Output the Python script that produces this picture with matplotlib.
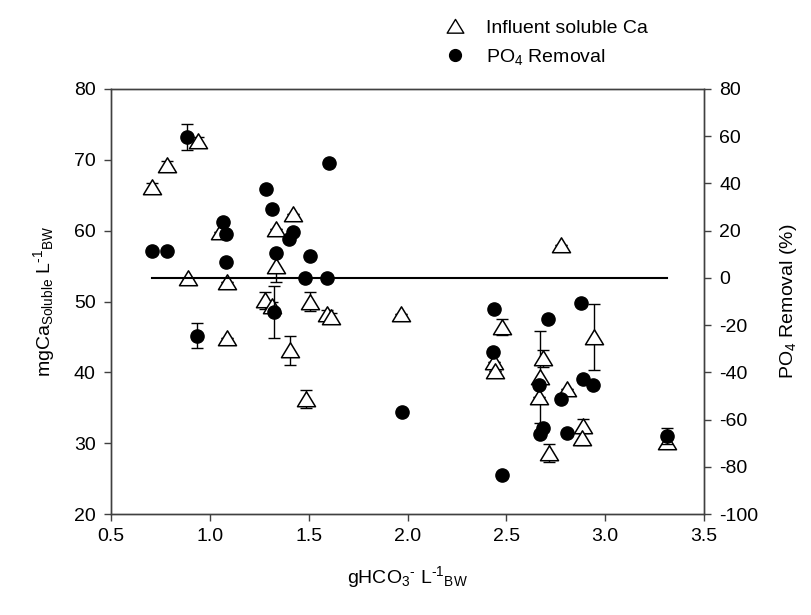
import matplotlib
matplotlib.use("Agg")
import matplotlib.pyplot as plt
from matplotlib.path import Path
from matplotlib.lines import Line2D

plt.rcParams['font.family'] = ['Liberation Sans', 'DejaVu Sans']
plt.rcParams['mathtext.fontset'] = 'custom'
plt.rcParams['mathtext.rm'] = 'Liberation Sans'
plt.rcParams['mathtext.it'] = 'Liberation Sans:italic'
plt.rcParams['mathtext.bf'] = 'Liberation Sans:bold'
plt.rcParams['mathtext.default'] = 'regular'
plt.rcParams['axes.unicode_minus'] = False

# Influent soluble Ca (left axis)
ca_x = [0.706, 0.785, 0.938, 0.888, 1.085, 1.051, 1.085, 1.279, 1.316, 1.333,
        1.333, 1.422, 1.405, 1.485, 1.507, 1.591, 1.611, 1.965, 2.776, 2.479,
        2.439, 2.442, 2.943, 2.687, 2.670, 2.667, 2.715, 2.808, 2.889, 2.881, 3.311]
ca_y = [66.1, 69.3, 72.6, 53.3, 52.8, 59.8, 44.8, 50.2, 49.4, 55.0,
        60.2, 62.4, 43.1, 36.2, 50.0, 48.2, 47.8, 48.2, 58.0, 46.4,
        41.5, 40.2, 45.0, 42.0, 39.4, 36.5, 28.6, 37.6, 32.4, 30.7, 30.2]
ca_err = [0.6, 0.5, 0.6, 0, 0, 0, 0, 1.2, 0.6, 2.2,
          0, 0, 2.0, 1.3, 1.3, 0.6, 0.6, 0, 0, 1.1,
          0, 0, 4.7, 1.2, 6.5, 0, 1.25, 0, 1.0, 0.9, 0.5]

# PO4 removal (right axis)
po_x = [0.886, 0.706, 0.782, 1.065, 1.082, 1.082, 1.282, 1.313, 1.335, 1.419,
        1.402, 1.507, 1.481, 1.591, 1.604, 0.937, 1.324, 1.970, 2.439, 2.434,
        2.476, 2.712, 2.877, 2.665, 2.683, 2.670, 2.775, 2.886, 2.940, 2.805, 3.311]
po_y = [59.5, 11.4, 11.4, 23.5, 18.6, 6.9, 37.5, 29.0, 10.4, 19.6,
        16.3, 9.4, 0.0, 0.0, 48.5, -24.5, -14.5, -56.7, -13.2, -31.5,
        -83.5, -17.5, -10.5, -45.4, -63.7, -66.3, -51.5, -43.0, -45.4, -65.6, -67.0]
po_err = [5.5, 0, 0, 0, 0, 0, 0, 0, 0, 0,
          0, 0, 0, 0, 0, 5.4, 11.0, 0, 0, 0,
          0, 0, 0, 0, 0, 0, 0, 0, 0, 0, 3.5]

xticks = [0.5, 1.0, 1.5, 2.0, 2.5, 3.0, 3.5]
yticks_left = [20, 30, 40, 50, 60, 70, 80]
yticks_right = [-100, -80, -60, -40, -20, 0, 20, 40, 60, 80]

tri = Path([(-1.0, -0.8), (1.0, -0.8), (0.0, 0.85), (-1.0, -0.8)],
           [Path.MOVETO, Path.LINETO, Path.LINETO, Path.CLOSEPOLY])

fig = plt.figure(figsize=(8.12, 6.15), dpi=100)
ax = fig.add_axes([0.1367, 0.1642, 0.7303, 0.6911])
ax2 = ax.twinx()

spine_col = '#404040'
for a in (ax, ax2):
    for s in a.spines.values():
        s.set_color(spine_col)
        s.set_linewidth(1.0)

FS = 14

# Influent Ca: error bars then open triangles
ax.errorbar(ca_x, ca_y, yerr=ca_err, fmt='none', ecolor='black', elinewidth=1.0,
            capsize=4.3, capthick=1.0, zorder=2)
ax.plot(ca_x, ca_y, linestyle='none', marker=tri, markersize=13,
        markerfacecolor='white', markeredgecolor='black', markeredgewidth=1.1, zorder=3)

# zero reference line on right axis across data range
ax2.plot([min(po_x), max(po_x)], [0, 0], color='black', lw=1.5, zorder=1)
ax2.errorbar(po_x, po_y, yerr=po_err, fmt='none', ecolor='black', elinewidth=1.0,
             capsize=4.3, capthick=1.0, zorder=2)
ax2.plot(po_x, po_y, linestyle='none', marker='o', markersize=9.5,
         markerfacecolor='black', markeredgecolor='black', zorder=3)

ax.set_xlim(0.5, 3.5)
ax.set_ylim(20, 80)
ax2.set_ylim(-100, 80)
ax.set_xticks(xticks)
ax.set_xticklabels([f"{v:.1f}" for v in xticks])
ax.set_yticks(yticks_left)
ax2.set_yticks(yticks_right)

ax.tick_params(axis='both', direction='out', length=5, width=1.0, colors=spine_col,
               labelcolor='black', labelsize=FS)
ax.tick_params(axis='y', pad=6)
ax.tick_params(axis='x', pad=5)
ax2.tick_params(axis='y', direction='out', length=5, width=1.0, colors=spine_col,
                labelcolor='black', labelsize=FS, pad=6)

ax.set_ylabel(r'mgCa$_{\mathrm{Soluble}}$ L$^{\text{-1}}{}_{\mathrm{BW}}$', fontsize=FS, labelpad=12)
ax2.set_ylabel(r'PO$_{4}$ Removal (%)', fontsize=FS, labelpad=14)
ax.set_xlabel(r'gHCO$_{3}{}^{\text{-}}$ L$^{\text{-1}}{}_{\mathrm{BW}}$', fontsize=FS, labelpad=14)

handles = [Line2D([], [], linestyle='none', marker=tri, markersize=12, markerfacecolor='white',
                  markeredgecolor='black', markeredgewidth=1.0),
           Line2D([], [], linestyle='none', marker='o', markersize=8.5, markerfacecolor='black',
                  markeredgecolor='black')]
fig.legend(handles, ['Influent soluble Ca', r'PO$_{4}$ Removal'], loc='upper left',
           bbox_to_anchor=(0.527, 0.981), frameon=False, fontsize=FS,
           handletextpad=0.6, labelspacing=0.5, borderaxespad=0)

fig.savefig('out.png', dpi=100)
